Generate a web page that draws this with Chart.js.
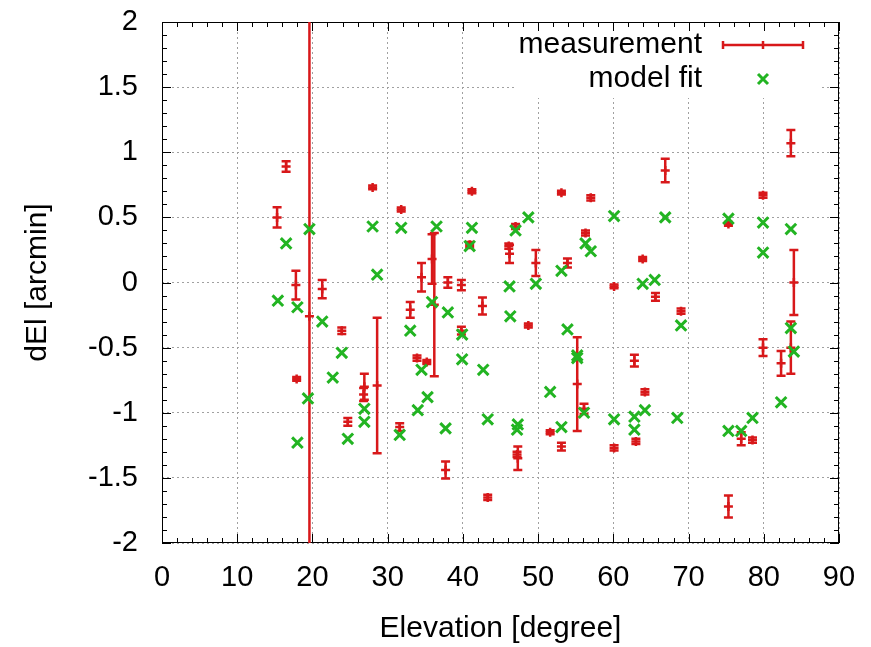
<!DOCTYPE html>
<html>
<head>
<meta charset="utf-8">
<script src="https://cdn.jsdelivr.net/npm/chart.js@4.4.0/dist/chart.umd.min.js"></script>
<style>
  html, body { margin: 0; padding: 0; background: #fff; }
  canvas { display: block; }
</style>
</head>
<body>
<canvas id="elChart" width="871" height="647"></canvas>
<script>
// measurement points (elevation, dEl, error)
const measX = [15.3, 16.5, 17.8, 17.9, 19.6, 21.3, 23.9, 24.7, 26.9, 26.8,
  28.0, 28.6, 31.6, 31.8, 33.0, 33.9, 34.5, 35.2, 35.9, 36.2,
  37.7, 38.0, 39.8, 39.8, 40.9, 41.2, 42.6, 43.3, 46.1, 46.2,
  47.0, 47.2, 47.3, 48.7, 49.7, 51.6, 53.1, 53.1, 53.9, 55.2,
  56.1, 56.3, 57.0, 60.1, 60.1, 62.8, 63.0, 63.9, 64.2, 65.6,
  66.9, 69.0, 75.3, 75.3, 77.0, 78.5, 79.9, 79.9, 82.3, 83.6,
  83.6, 84.0];
const measY = [0.50, 0.89, -0.02, -0.74, -0.26, -0.05, -0.37, -1.07, -0.80, -0.86,
  0.73, -0.79, -1.11, 0.56, -0.21, -0.58, 0.04, -0.61, 0.18, -0.17,
  -1.44, 0.00, -0.02, -0.37, 0.29, 0.70, -0.18, -1.65, 0.28, 0.22,
  0.43, -1.32, -1.35, -0.33, 0.15, -1.15, 0.69, -1.26, 0.15, -0.78,
  -0.97, 0.38, 0.65, -0.03, -1.27, -0.60, -1.22, 0.18, -0.84, -0.11,
  0.86, -0.22, 0.45, -1.72, -1.20, -1.21, 0.67, -0.50, -0.62, 1.07,
  -0.50, 0.00];
const measErr = [0.077, 0.04, 0.11, 0.015, 3.0, 0.07, 0.025, 0.03, 0.10, 0.05,
  0.015, 0.52, 0.03, 0.015, 0.06, 0.02, 0.11, 0.015, 0.19, 0.55,
  0.065, 0.04, 0.04, 0.03, 0.02, 0.015, 0.065, 0.02, 0.02, 0.07,
  0.02, 0.02, 0.09, 0.015, 0.10, 0.015, 0.015, 0.03, 0.035, 0.36,
  0.04, 0.02, 0.02, 0.015, 0.02, 0.045, 0.02, 0.015, 0.02, 0.03,
  0.09, 0.02, 0.015, 0.085, 0.05, 0.02, 0.02, 0.065, 0.095, 0.10,
  0.20, 0.25];

// model fit points
const fitX = [15.4, 16.5, 18.0, 18.0, 19.6, 19.4, 21.3, 22.7, 23.9, 24.7,
  26.9, 26.9, 28.0, 28.6, 31.6, 31.8, 33.0, 34.0, 34.5, 35.3,
  35.9, 36.5, 37.7, 38.0, 39.9, 39.9, 40.9, 41.2, 42.7, 43.3,
  46.2, 46.3, 47.0, 47.3, 47.2, 48.7, 49.7, 51.6, 53.1, 53.1,
  53.9, 55.2, 55.2, 56.1, 56.3, 57.0, 60.1, 60.1, 62.8, 62.8,
  63.9, 64.2, 65.5, 66.9, 68.5, 69.0, 75.3, 75.3, 77.0, 78.5,
  79.9, 79.9, 82.3, 83.6, 83.6, 84.0];
const fitY = [-0.14, 0.30, -0.19, -1.23, 0.41, -0.89, -0.30, -0.73, -0.54, -1.20,
  -0.97, -1.07, 0.43, 0.06, -1.17, 0.42, -0.37, -0.98, -0.67, -0.88,
  -0.15, 0.43, -1.12, -0.23, -0.40, -0.59, 0.28, 0.42, -0.67, -1.05,
  -0.03, -0.26, 0.40, -1.09, -1.13, 0.50, -0.01, -0.84, 0.09, -1.11,
  -0.36, -0.56, -0.58, -1.00, 0.30, 0.24, 0.51, -1.05, -1.03, -1.13,
  -0.01, -0.98, 0.02, 0.50, -1.04, -0.33, 0.49, -1.14, -1.14, -1.04,
  0.46, 0.23, -0.92, 0.41, -0.35, -0.53];

const xTicks = [0, 10, 20, 30, 40, 50, 60, 70, 80, 90];
const yTicks = [-2, -1.5, -1, -0.5, 0, 0.5, 1, 1.5, 2];

const RED = "#d8181a";
const GREEN = "#22b422";
const FONT = "'Liberation Sans', Arial, sans-serif";

// vertical error bars with caps, through the y scale
const errorBars = {
  id: "errorBars",
  afterDatasetDraw(chart, args) {
    if (args.index !== 1) return;
    const { ctx, chartArea: a, scales } = chart;
    ctx.save();
    ctx.beginPath();
    ctx.rect(a.left, a.top, a.right - a.left, a.bottom - a.top);
    ctx.clip();
    ctx.strokeStyle = RED;
    ctx.lineWidth = 2.5;
    measX.forEach((x, i) => {
      const px = scales.x.getPixelForValue(x);
      const yTop = scales.y.getPixelForValue(measY[i] + measErr[i]);
      const yBot = scales.y.getPixelForValue(measY[i] - measErr[i]);
      ctx.beginPath();
      ctx.moveTo(px, yTop);
      ctx.lineTo(px, yBot);
      ctx.moveTo(px - 4.5, yTop);
      ctx.lineTo(px + 4.5, yTop);
      ctx.moveTo(px - 4.5, yBot);
      ctx.lineTo(px + 4.5, yBot);
      ctx.stroke();
    });
    ctx.restore();
  }
};

// frame with inward ticks on all sides, and the key
const frameAndKey = {
  id: "frameAndKey",
  beforeDatasetsDraw(chart) {
    const { ctx, chartArea: a, scales } = chart;
    const xs = scales.x, ys = scales.y;
    ctx.save();

    // key background hides the grid
    ctx.fillStyle = "#fff";
    ctx.fillRect(515, a.top + 1, 306, 75);

    ctx.strokeStyle = "#000";
    ctx.lineWidth = 1;
    ctx.strokeRect(a.left + 0.5, a.top + 0.5, a.right - a.left - 1, a.bottom - a.top - 1);

    ctx.beginPath();
    for (let v = 0; v <= 90; v += 2) {
      const px = Math.round(xs.getPixelForValue(v)) + 0.5;
      const len = v % 10 === 0 ? 9 : 5;
      ctx.moveTo(px, a.bottom);
      ctx.lineTo(px, a.bottom - len);
      ctx.moveTo(px, a.top);
      ctx.lineTo(px, a.top + len);
    }
    for (let k = -20; k <= 20; k++) {
      const py = Math.round(ys.getPixelForValue(k / 10)) + 0.5;
      const len = k % 5 === 0 ? 9 : 5;
      ctx.moveTo(a.left, py);
      ctx.lineTo(a.left + len, py);
      ctx.moveTo(a.right, py);
      ctx.lineTo(a.right - len, py);
    }
    ctx.stroke();

    // key entries
    ctx.fillStyle = "#000";
    ctx.font = "30px " + FONT;
    ctx.textAlign = "right";
    ctx.textBaseline = "middle";
    ctx.fillText("measurement", 702, 45);
    ctx.fillText("model fit", 702, 79);

    ctx.strokeStyle = RED;
    ctx.lineWidth = 2.5;
    ctx.beginPath();
    ctx.moveTo(723, 45);
    ctx.lineTo(803, 45);
    ctx.moveTo(723, 41);
    ctx.lineTo(723, 49);
    ctx.moveTo(803, 41);
    ctx.lineTo(803, 49);
    ctx.moveTo(763, 41);
    ctx.lineTo(763, 49);
    ctx.stroke();

    ctx.strokeStyle = GREEN;
    ctx.lineWidth = 3;
    ctx.beginPath();
    ctx.moveTo(758, 74);
    ctx.lineTo(768, 84);
    ctx.moveTo(768, 74);
    ctx.lineTo(758, 84);
    ctx.stroke();

    ctx.restore();
  }
};

const ctx = document.getElementById("elChart").getContext("2d");

new Chart(ctx, {
  type: "scatter",
  data: {
    datasets: [
      {
        label: "model fit",
        data: fitX.map((x, i) => ({ x: x, y: fitY[i] })),
        pointStyle: "crossRot",
        pointRadius: 7.5,
        borderWidth: 3,
        borderColor: GREEN,
        backgroundColor: GREEN
      },
      {
        label: "measurement",
        data: measX.map((x, i) => ({ x: x, y: measY[i] })),
        pointStyle: "cross",
        pointRadius: 4.5,
        borderWidth: 2.5,
        borderColor: RED,
        backgroundColor: RED
      }
    ]
  },
  options: {
    responsive: false,
    animation: false,
    devicePixelRatio: 1,
    layout: { padding: { top: 22, right: 32, left: 0, bottom: 0 }, autoPadding: false },
    plugins: {
      legend: { display: false },
      title: { display: false },
      tooltip: { enabled: false }
    },
    scales: {
      x: {
        type: "linear",
        min: 0,
        max: 90,
        afterBuildTicks: (scale) => { scale.ticks = xTicks.map((v) => ({ value: v })); },
        afterFit: (scale) => {
          scale.height = 104;
          scale.paddingLeft = 0;
          scale.paddingRight = 0;
        },
        ticks: {
          color: "#000",
          padding: 18,
          font: { family: FONT, size: 29 },
          callback: (v) => String(v)
        },
        grid: { color: "#a0a0a0", lineWidth: 1, drawTicks: false },
        border: { display: false, dash: [2, 3] },
        title: {
          display: true,
          text: "Elevation [degree]",
          color: "#000",
          font: { family: FONT, size: 30 },
          padding: { top: 0, bottom: 0 }
        }
      },
      y: {
        type: "linear",
        min: -2,
        max: 2,
        afterBuildTicks: (scale) => { scale.ticks = yTicks.map((v) => ({ value: v })); },
        afterFit: (scale) => {
          scale.width = 162;
          scale.paddingTop = 0;
          scale.paddingBottom = 0;
        },
        ticks: {
          color: "#000",
          padding: 24,
          font: { family: FONT, size: 29 },
          callback: (v) => String(v)
        },
        grid: { color: "#a0a0a0", lineWidth: 1, drawTicks: false },
        border: { display: false, dash: [2, 3] },
        title: {
          display: true,
          text: "dEl [arcmin]",
          color: "#000",
          font: { family: FONT, size: 30 },
          padding: { top: 20, bottom: 0 }
        }
      }
    }
  },
  plugins: [errorBars, frameAndKey]
});
</script>
</body>
</html>
